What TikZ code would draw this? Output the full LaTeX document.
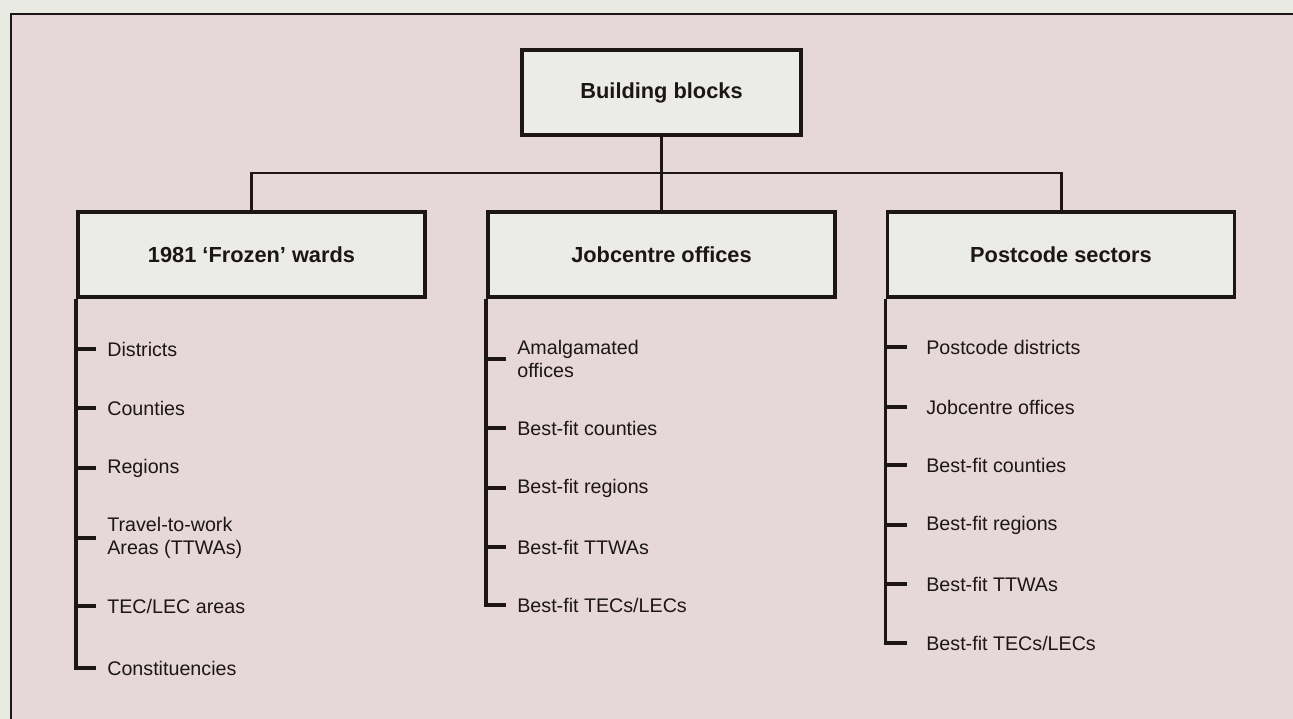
\documentclass[tikz,border=0pt]{standalone}
\usepackage{fontspec}
\setmainfont{Liberation Sans}
\usetikzlibrary{positioning}
\definecolor{pagebg}{RGB}{233,234,226}
\definecolor{pinkbg}{RGB}{230,216,216}
\definecolor{boxbg}{RGB}{235,236,234}
\definecolor{ink}{RGB}{28,22,22}
\tikzset{
		blk/.style={draw=ink, fill=boxbg, line width=2.1pt, minimum width=6.94cm, minimum height=1.7cm, inner sep=0pt, font=\fontsize{12.4}{14}\selectfont\bfseries, text=ink},
		tree/.style={draw=ink, line width=2pt},
		item/.style={anchor=west, inner xsep=0.22cm, inner ysep=0pt, align=left, text=ink}
	}
\begin{document}
\begin{tikzpicture}[x=0.02cm, y=-0.02cm, font=\fontsize{11.2}{13.1}\selectfont]
		\useasboundingbox (0,0) rectangle (1293,719);
		\fill[pagebg] (0,0) rectangle (1293,719);
		\draw[ink, line width=1.3pt, fill=pinkbg] (11,14) rectangle (1320,740);
		\node[blk, minimum width=5.58cm] (bb) at (661.5,92.5) {Building blocks};
		\node[blk] (fw) at (251.5,254.5) {1981 `Frozen' wards};
		\node[blk] (jc) at (661.5,254.5) {Jobcentre offices};
		\node[blk] (ps) at (1061,254.5) {Postcode sectors};
		\coordinate (bar) at (661.5,173);
		\draw[tree] (bb.south) -- (jc.north);
		\draw[tree, line width=1.7pt] (fw.north) |- (bar) -| (ps.north);
		\node[item] (f1) at (96,349) {Districts};
		\node[item] (f2) at (96,408) {Counties};
		\node[item] (f3) at (96,468) {Regions};
		\node[item] (f4) at (96,538) {Travel-to-work\\Areas (TTWAs)};
		\node[item] (f5) at (96,606) {TEC/LEC areas};
		\node[item] (f6) at (96,668) {Constituencies};
		\draw[tree] (fw.south west) |- (f6.west);
		\draw[tree] (fw.south west |- f1.west) -- (f1.west)
					(fw.south west |- f2.west) -- (f2.west)
					(fw.south west |- f3.west) -- (f3.west)
					(fw.south west |- f4.west) -- (f4.west)
					(fw.south west |- f5.west) -- (f5.west);
		\node[item] (j1) at (506,359) {Amalgamated\\offices};
		\node[item] (j2) at (506,428) {Best-fit counties};
		\node[item] (j3) at (506,488) {Best-fit regions};
		\node[item] (j4) at (506,547) {Best-fit TTWAs};
		\node[item] (j5) at (506,605) {Best-fit TECs/LECs};
		\draw[tree] (jc.south west) |- (j5.west);
		\draw[tree] (jc.south west |- j1.west) -- (j1.west)
					(jc.south west |- j2.west) -- (j2.west)
					(jc.south west |- j3.west) -- (j3.west)
					(jc.south west |- j4.west) -- (j4.west);
		\node[item, inner xsep=0.38cm] (p1) at (907,347) {Postcode districts};
		\node[item, inner xsep=0.38cm] (p2) at (907,407) {Jobcentre offices};
		\node[item, inner xsep=0.38cm] (p3) at (907,465) {Best-fit counties};
		\node[item, inner xsep=0.38cm] (p4) at (907,525) {Best-fit regions};
		\node[item, inner xsep=0.38cm] (p5) at (907,584) {Best-fit TTWAs};
		\node[item, inner xsep=0.38cm] (p6) at (907,643) {Best-fit TECs/LECs};
		\draw[tree] (ps.south west) |- (p6.west);
		\draw[tree] (ps.south west |- p1.west) -- (p1.west)
					(ps.south west |- p2.west) -- (p2.west)
					(ps.south west |- p3.west) -- (p3.west)
					(ps.south west |- p4.west) -- (p4.west)
					(ps.south west |- p5.west) -- (p5.west);
	\end{tikzpicture}
\end{document}
